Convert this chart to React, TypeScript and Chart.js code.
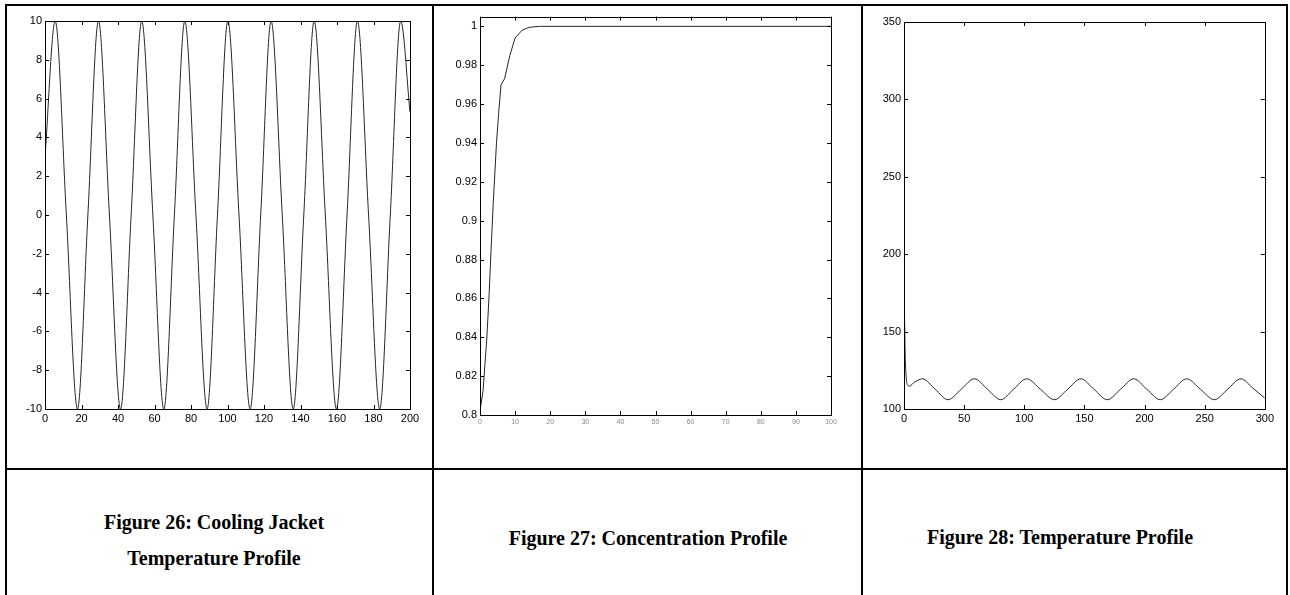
import React, { useEffect, useRef } from "react";
import { Chart, registerables } from "chart.js";

Chart.register(...registerables);

// ---------- Figure 26: Cooling jacket temperature ----------
const jacketTime = [
  0, 5.6, 11.7, 17.8, 23.5, 29.3, 35.3, 41.4, 47.2, 53, 59.1, 65.1, 70.9, 76.6, 82.7, 88.8, 94.5,
  100.2, 106.3, 112.4, 118.2, 123.9, 130, 136, 141.8, 147.5, 153.6, 159.7, 165.5, 171.2, 177.3,
  183.4, 189.2, 194.9, 200,
];
const jacketTemp = [
  3, 10, 0, -10, 0, 10, 0, -10, 0, 10, 0, -10, 0, 10, 0, -10, 0,
  10, 0, -10, 0, 10, 0, -10, 0, 10, 0, -10, 0, 10, 0,
  -10, 0, 10, 5.3,
];
const jacketXTicks = [0, 20, 40, 60, 80, 100, 120, 140, 160, 180, 200];
const jacketYTicks = [-10, -8, -6, -4, -2, 0, 2, 4, 6, 8, 10];

// ---------- Figure 27: Concentration ----------
const concTime = [0, 0.9, 1.4, 1.9, 2.6, 3.1, 3.8, 4.7, 5.3, 6.0, 7.0, 8.5, 10, 12, 14, 17, 100];
const concValue = [
  0.802, 0.813, 0.826, 0.838, 0.862, 0.883, 0.91, 0.94, 0.955, 0.97, 0.973, 0.985, 0.994, 0.998,
  0.9995, 1.0, 1.0,
];
const concXTicks = [0, 10, 20, 30, 40, 50, 60, 70, 80, 90, 100];
const concYTicks = [0.8, 0.82, 0.84, 0.86, 0.88, 0.9, 0.92, 0.94, 0.96, 0.98, 1];

// ---------- Figure 28: Temperature ----------
const tempTime = [
  0, 1, 2, 3, 4.5, 9, 15.3, 26, 36.5, 47.5, 58.5, 69.5, 80.5, 91, 102, 113.5, 125, 136, 147, 158,
  169, 180, 191, 202, 213, 224, 235, 246.5, 258, 269, 280, 290, 300,
];
const tempValue = [
  182, 135, 119, 115.5, 114.8, 117.5, 119.5, 112.7, 106, 112.7, 119.5, 112.7, 106, 112.7, 119.5,
  112.7, 106, 112.7, 119.5, 112.7, 106, 112.7, 119.5, 112.7, 106, 112.7, 119.5, 112.7, 106, 112.7,
  119.5, 113.5, 107,
];
const tempXTicks = [0, 50, 100, 150, 200, 250, 300];
const tempYTicks = [100, 150, 200, 250, 300, 350];

// ---------- Captions ----------
const caption26 = ["Figure 26: Cooling Jacket", "Temperature Profile"];
const caption27 = ["Figure 27: Concentration Profile"];
const caption28 = ["Figure 28: Temperature Profile"];

const fmt = (v: number) => String(Number(v.toFixed(2)));

const boxPlugin = {
  id: "matlabBox",
  afterDatasetsDraw(chart: any) {
    const { ctx, chartArea: a, scales } = chart;
    const xs = scales.x;
    const ys = scales.y;
    const tl = 4;
    ctx.save();
    ctx.strokeStyle = "#000";
    ctx.lineWidth = 1;
    ctx.beginPath();
    for (const t of xs.ticks) {
      const px = Math.round(xs.getPixelForValue(t.value)) + 0.5;
      ctx.moveTo(px, a.bottom);
      ctx.lineTo(px, a.bottom - tl);
      ctx.moveTo(px, a.top);
      ctx.lineTo(px, a.top + tl);
    }
    for (const t of ys.ticks) {
      const py = Math.round(ys.getPixelForValue(t.value)) + 0.5;
      ctx.moveTo(a.left, py);
      ctx.lineTo(a.left + tl, py);
      ctx.moveTo(a.right, py);
      ctx.lineTo(a.right - tl, py);
    }
    ctx.stroke();
    ctx.strokeRect(
      Math.round(a.left) + 0.5,
      Math.round(a.top) + 0.5,
      Math.round(a.right - a.left),
      Math.round(a.bottom - a.top)
    );
    ctx.restore();
  },
};

type PlotProps = {
  canvasBox: { x: number; y: number; w: number; h: number };
  area: { l: number; r: number; t: number; b: number };
  xs: number[];
  ys: number[];
  xTicks: number[];
  yTicks: number[];
  xMin: number;
  xMax: number;
  yMin: number;
  yMax: number;
  smooth: boolean;
  xTickFont?: { size: number; color: string };
};

function Plot(props: PlotProps) {
  const ref = useRef<HTMLCanvasElement | null>(null);
  useEffect(() => {
    if (!ref.current) return;
    const { canvasBox: c, area } = props;
    const padTop = area.t - c.y;
    const padRight = c.x + c.w - area.r;
    const yWidth = area.l - c.x;
    const xHeight = c.y + c.h - area.b;
    const labelFont = { family: '"Liberation Sans", Arial, sans-serif', size: 11 };
    const points = props.xs.map((x, i) => ({ x, y: props.ys[i] }));
    const chart = new Chart(ref.current, {
      type: "line",
      data: {
        datasets: [
          {
            data: points,
            borderColor: "#262626",
            borderWidth: 1,
            pointRadius: 0,
            fill: false,
            tension: 0,
            cubicInterpolationMode: props.smooth ? "monotone" : "default",
          } as any,
        ],
      },
      options: {
        animation: false,
        responsive: false,
        devicePixelRatio: 1,
        events: [],
        layout: { padding: { left: 0, top: padTop, right: padRight, bottom: 0 } },
        plugins: { legend: { display: false }, tooltip: { enabled: false } },
        scales: {
          x: {
            type: "linear",
            min: props.xMin,
            max: props.xMax,
            afterBuildTicks: (s: any) => {
              s.ticks = props.xTicks.map((v) => ({ value: v }));
            },
            afterFit: (s: any) => {
              s.height = xHeight;
            },
            grid: { display: false, drawTicks: false },
            border: { display: false },
            ticks: {
              padding: 3,
              autoSkip: false,
              maxRotation: 0,
              font: props.xTickFont
                ? { ...labelFont, size: props.xTickFont.size }
                : labelFont,
              color: props.xTickFont ? props.xTickFont.color : "#000",
              callback: (v: any) => fmt(Number(v)),
            },
          },
          y: {
            type: "linear",
            min: props.yMin,
            max: props.yMax,
            afterBuildTicks: (s: any) => {
              s.ticks = props.yTicks.map((v) => ({ value: v }));
            },
            afterFit: (s: any) => {
              s.width = yWidth;
            },
            grid: { display: false, drawTicks: false },
            border: { display: false },
            ticks: {
              padding: 3,
              autoSkip: false,
              font: labelFont,
              color: "#000",
              callback: (v: any) => fmt(Number(v)),
            },
          },
        },
      } as any,
      plugins: [boxPlugin],
    });
    return () => chart.destroy();
  }, []);
  const c = props.canvasBox;
  return (
    <canvas
      ref={ref}
      width={c.w}
      height={c.h}
      style={{ position: "absolute", left: c.x, top: c.y, width: c.w, height: c.h }}
    />
  );
}

const lineStyle = (x: number, y: number, w: number, h: number): React.CSSProperties => ({
  position: "absolute",
  left: x,
  top: y,
  width: w,
  height: h,
  background: "#000",
});

function Caption({ lines, cx, cys }: { lines: string[]; cx: number; cys: number[] }) {
  return (
    <>
      {lines.map((t, i) => (
        <div
          key={i}
          style={{
            position: "absolute",
            left: cx,
            top: cys[i],
            transform: "translate(-50%, -50%)",
            whiteSpace: "nowrap",
            fontFamily: '"Liberation Serif", "Times New Roman", serif',
            fontWeight: "bold",
            fontSize: 20,
            lineHeight: 1,
            color: "#000",
          }}
        >
          {t}
        </div>
      ))}
    </>
  );
}

export default function App() {
  return (
    <div
      style={{
        position: "absolute",
        left: 0,
        top: 0,
        width: 1290,
        height: 595,
        background: "#fff",
        overflow: "hidden",
      }}
    >
      <Plot
        canvasBox={{ x: 8, y: 7, w: 424, h: 460 }}
        area={{ l: 45, r: 410, t: 21, b: 409 }}
        xs={jacketTime}
        ys={jacketTemp}
        xTicks={jacketXTicks}
        yTicks={jacketYTicks}
        xMin={0}
        xMax={200}
        yMin={-10}
        yMax={10}
        smooth={true}
      />
      <Plot
        canvasBox={{ x: 436, y: 7, w: 424, h: 460 }}
        area={{ l: 480, r: 831, t: 16, b: 415 }}
        xs={concTime}
        ys={concValue}
        xTicks={concXTicks}
        yTicks={concYTicks}
        xMin={0}
        xMax={100}
        yMin={0.8}
        yMax={1.005}
        smooth={false}
        xTickFont={{ size: 7, color: "#888" }}
      />
      <Plot
        canvasBox={{ x: 865, y: 7, w: 412, h: 460 }}
        area={{ l: 904, r: 1265, t: 22, b: 409 }}
        xs={tempTime}
        ys={tempValue}
        xTicks={tempXTicks}
        yTicks={tempYTicks}
        xMin={0}
        xMax={300}
        yMin={100}
        yMax={350}
        smooth={true}
      />
      {/* table borders */}
      <div style={lineStyle(6, 4, 1282, 2)} />
      <div style={lineStyle(6, 468, 1282, 2)} />
      <div style={lineStyle(5, 4, 2, 591)} />
      <div style={lineStyle(432, 4, 2, 591)} />
      <div style={lineStyle(861, 4, 2, 591)} />
      <div style={lineStyle(1286, 4, 2, 591)} />
      <Caption lines={caption26} cx={214} cys={[522, 558]} />
      <Caption lines={caption27} cx={648} cys={[538]} />
      <Caption lines={caption28} cx={1060} cys={[537]} />
    </div>
  );
}
